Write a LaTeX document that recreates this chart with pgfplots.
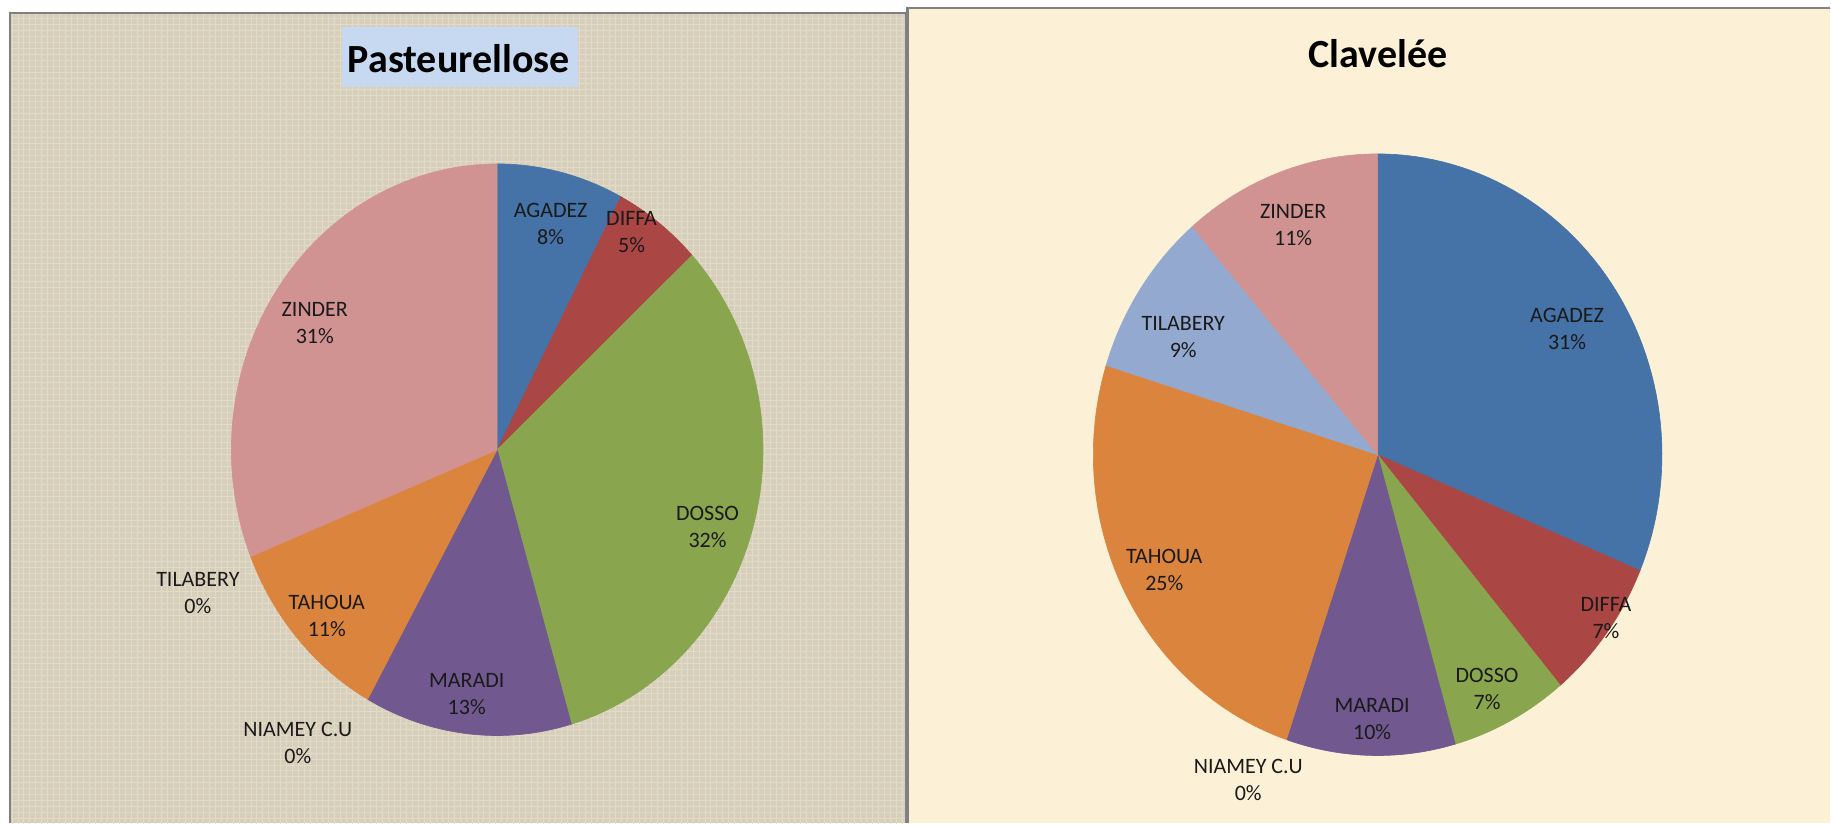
\documentclass[border=0pt]{standalone}
\usepackage{pgfplots}
\pgfplotsset{compat=1.18}
\usepackage{pgfplotstable}
\usepackage{fontspec}
\setmainfont{Carlito}
\usetikzlibrary{patterns}

\definecolor{cAga}{HTML}{4572A7}
\definecolor{cDif}{HTML}{AA4643}
\definecolor{cDos}{HTML}{89A54E}
\definecolor{cMar}{HTML}{71588F}
\definecolor{cNia}{HTML}{4198AF}
\definecolor{cTah}{HTML}{DB843D}
\definecolor{cTil}{HTML}{93A9CF}
\definecolor{cZin}{HTML}{D19392}
\definecolor{leftbg}{HTML}{D8CFBB}
\definecolor{leftgrid}{HTML}{E3DBC9}
\definecolor{rightbg}{HTML}{FCF0D6}
\definecolor{bord}{HTML}{808080}
\definecolor{titlebox}{HTML}{C6D9F1}

% Pasteurellose (percent of cases)
\pgfplotstableread{
region pct col
AGADEZ 7.7 cAga
DIFFA 5.4 cDif
DOSSO 32.4 cDos
MARADI 12.6 cMar
NIAMEY 0 cNia
TAHOUA 10.8 cTah
TILABERY 0 cTil
ZINDER 31.1 cZin
}\pastTable

% Clavelee (percent of cases)
\pgfplotstableread{
region pct col
AGADEZ 31.3 cAga
DIFFA 7.6 cDif
DOSSO 6.7 cDos
MARADI 9.6 cMar
NIAMEY 0 cNia
TAHOUA 24.6 cTah
TILABERY 8.9 cTil
ZINDER 11.3 cZin
}\clavTable

\newcommand\drawpie[5]{%
  \pgfplotstablegetrowsof{#1}%
  \pgfmathtruncatemacro\lastrow{\pgfplotsretval-1}%
  \gdef\cum{0}%
  \pgfplotsforeachungrouped \i in {0,...,\lastrow}{%
    \pgfplotstablegetelem{\i}{pct}\of{#1}\let\pc\pgfplotsretval
    \pgfplotstablegetelem{\i}{col}\of{#1}\let\cc\pgfplotsretval
    \pgfmathsetmacro\s{\cum}%
    \pgfmathsetmacro\e{\cum+\pc}%
    \xdef\cum{\e}%
    \pgfmathtruncatemacro\nz{\pc>0.01}%
    \ifnum\nz=1
      \edef\temp{\noexpand\addplot[draw=\cc, line width=0.3pt, fill=\cc, domain=\s*3.6:\e*3.6, samples=60] ({#2+#4*sin(x)},{#3-#5*cos(x)}) -- (axis cs:#2,#3) -- cycle;}%
      \temp
    \fi
  }%
}

\newcommand\lab{\fontsize{11bp}{13.5bp}\selectfont\color[HTML]{1A1A1A}}
\newcommand\ttl{\fontsize{20bp}{22bp}\selectfont\bfseries}

\begin{document}
\begin{tikzpicture}
\begin{scope}[x=0.5bp, y=-0.5bp, shift={(0,412bp)}]
  \fill[white] (0,0) rectangle (1831,824);
  \fill[leftbg] (10,13) rectangle (907,824);
  \fill[pattern=grid, pattern color=leftgrid] (10,13) rectangle (907,824);
  \fill[rightbg] (908,8) rectangle (1831,824);
  \draw[bord, line width=1.2bp] (10,824) -- (10,13) -- (907,13) -- (907,824);
  \draw[bord, line width=1.2bp] (908,824) -- (908,8) -- (1831,8);
  \fill[titlebox] (342,27) rectangle (578,87);
\end{scope}
\begin{axis}[at={(0,0)}, anchor=south west, scale only axis,
  width=915.5bp, height=412bp, xmin=0, xmax=1831, ymin=0, ymax=824,
  y dir=reverse, hide axis, clip=false]
  \drawpie{\pastTable}{497.5}{450}{266}{286}
  \drawpie{\clavTable}{1378.5}{455}{284.5}{301}
  % titles
  \node[anchor=base, inner sep=0pt, font=\ttl] at (axis cs:459,72.5) {Pasteurellose};
  \node[anchor=base, inner sep=0pt, font=\ttl] at (axis cs:1379,68) {Clavelée};
  % labels left
  \node[align=center, font=\lab] at (axis cs:551,224) {AGADEZ\\8\%};
  \node[align=center, font=\lab] at (axis cs:632,232) {DIFFA\\5\%};
  \node[align=center, font=\lab] at (axis cs:708,527) {DOSSO\\32\%};
  \node[align=center, font=\lab] at (axis cs:467,694) {MARADI\\13\%};
  \node[align=center, font=\lab] at (axis cs:298,743) {NIAMEY C.U\\0\%};
  \node[align=center, font=\lab] at (axis cs:327,616) {TAHOUA\\11\%};
  \node[align=center, font=\lab] at (axis cs:198,593) {TILABERY\\0\%};
  \node[align=center, font=\lab] at (axis cs:315,323) {ZINDER\\31\%};
  % labels right
  \node[align=center, font=\lab] at (axis cs:1568,329) {AGADEZ\\31\%};
  \node[align=center, font=\lab] at (axis cs:1607,618) {DIFFA\\7\%};
  \node[align=center, font=\lab] at (axis cs:1488,689) {DOSSO\\7\%};
  \node[align=center, font=\lab] at (axis cs:1373,719) {MARADI\\10\%};
  \node[align=center, font=\lab] at (axis cs:1249,780) {NIAMEY C.U\\0\%};
  \node[align=center, font=\lab] at (axis cs:1165,570) {TAHOUA\\25\%};
  \node[align=center, font=\lab] at (axis cs:1184,337) {TILABERY\\9\%};
  \node[align=center, font=\lab] at (axis cs:1294,225) {ZINDER\\11\%};
\end{axis}
\end{tikzpicture}
\end{document}
